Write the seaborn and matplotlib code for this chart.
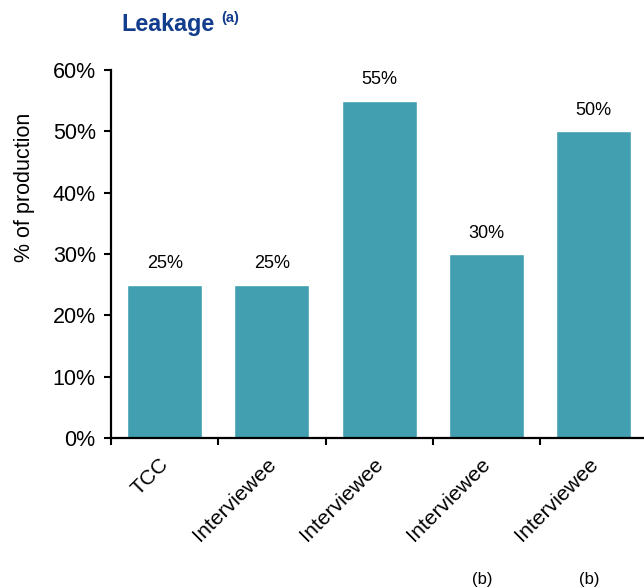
import matplotlib
matplotlib.use("Agg")
import matplotlib.pyplot as plt
import seaborn as sns
import pandas as pd

# Leakage estimates by source, as % of production
sources = ["TCC", "Interviewee", "Interviewee", "Interviewee", "Interviewee"]
leakage_pct = [25, 25, 55, 30, 50]
footnotes = ["", "", "", "(b)", "(b)"]
y_ticks = [0, 10, 20, 30, 40, 50, 60]

sns.set_theme(style="white")
plt.rcParams["font.family"] = ["Liberation Sans", "DejaVu Sans"]
plt.rcParams["text.color"] = "black"
plt.rcParams["axes.labelcolor"] = "black"
plt.rcParams["xtick.color"] = "black"
plt.rcParams["ytick.color"] = "black"

df = pd.DataFrame({"pos": [str(i) for i in range(len(sources))],
                   "value": leakage_pct})

fig = plt.figure(figsize=(6.44, 5.88), dpi=100)
ax = fig.add_axes([0.1724, 0.255, 0.8276, 0.626])

sns.barplot(data=df, x="pos", y="value", color="#419FB0", saturation=1,
            width=0.70, ax=ax)

ax.set_ylim(0, 60)
ax.set_xlim(-0.5, 4.47)
ax.set_yticks(y_ticks)
ax.set_yticklabels([f"{v}%" for v in y_ticks], fontsize=15.5)
ax.set_ylabel("% of production", fontsize=15.5)
ax.yaxis.set_label_coords(-0.143, 0.68)
ax.set_xlabel("")

# category boundaries carry the ticks; labels sit under the bar centres
ax.set_xticks([i - 0.5 for i in range(len(sources))])
ax.set_xticklabels([])
for i, name in enumerate(sources):
    ax.annotate(name, xy=(i, 0), xycoords=("data", "axes fraction"),
                xytext=(-4, -12), textcoords="offset points",
                rotation=45, ha="right", va="top", rotation_mode="anchor",
                fontsize=15.3)
    if footnotes[i]:
        ax.annotate(footnotes[i], xy=(i, 0), xycoords=("data", "axes fraction"),
                    xytext=(-3, -102), textcoords="offset points",
                    ha="center", va="center", fontsize=12)

for i, v in enumerate(leakage_pct):
    ax.text(i, v + 2.0, f"{v}%", ha="center", va="bottom", fontsize=13)

for s in ["top", "right"]:
    ax.spines[s].set_visible(False)
for s in ["left", "bottom"]:
    ax.spines[s].set_color("black")
    ax.spines[s].set_linewidth(1.6)
ax.tick_params(axis="both", which="both", direction="out", length=5,
               width=1.5, color="black", left=True, bottom=True)
ax.tick_params(axis="y", pad=6)

fig.text(0.188, 0.958, "Leakage", fontsize=16.8, fontweight="bold",
         color="#123C8C", ha="left", va="center")
fig.text(0.343, 0.970, "(a)", fontsize=10.5, fontweight="bold",
         color="#123C8C", ha="left", va="center")

fig.savefig("out.png", dpi=100)
